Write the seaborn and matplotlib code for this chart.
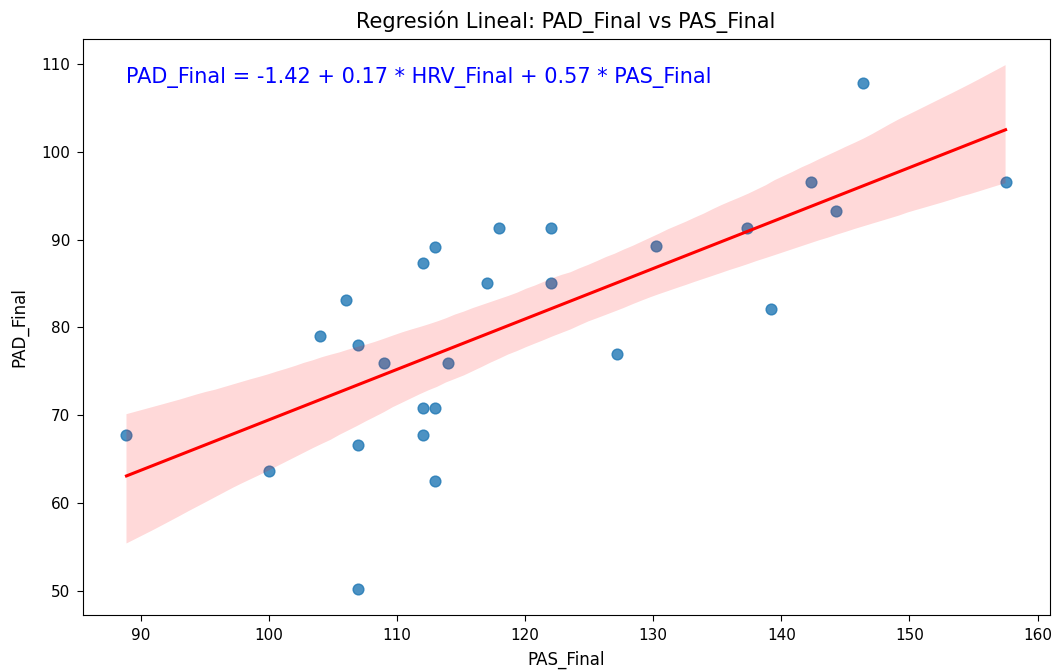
import matplotlib
matplotlib.use("Agg")
import matplotlib.pyplot as plt
import seaborn as sns
import pandas as pd

# values
pas_final = [88.9, 100.0, 104.0, 106.0, 107.0, 107.0, 107.0, 109.0, 112.0, 113.0,
             112.0, 113.0, 112.0, 113.0, 114.0, 117.0, 118.0, 122.0, 122.0, 127.2,
             130.2, 137.3, 139.2, 142.3, 144.3, 146.4, 157.5]
pad_final = [67.7, 63.6, 79.0, 83.1, 78.0, 66.6, 50.2, 76.0, 87.3, 89.2,
             70.8, 70.8, 67.7, 62.5, 76.0, 85.1, 91.3, 91.3, 85.1, 77.0,
             89.3, 91.3, 82.1, 96.5, 93.3, 107.8, 96.5]

# coefficients of the multiple regression shown in the annotation
intercept = -1.42
coef_hrv = 0.17
coef_pas = 0.57

df = pd.DataFrame({'PAS_Final': pas_final, 'PAD_Final': pad_final})

fig = plt.figure(figsize=(10.58, 6.71), dpi=100)
ax = fig.add_subplot(111)
fig.subplots_adjust(left=0.078, right=0.992, top=0.942, bottom=0.083)

sns.regplot(x='PAS_Final', y='PAD_Final', data=df, ax=ax,
            scatter_kws={'s': 60},
            line_kws={'color': 'red', 'lw': 2.2}, seed=3)

ax.set_title('Regresión Lineal: PAD_Final vs PAS_Final', fontsize=15, pad=8)
ax.set_xlabel('PAS_Final', fontsize=12, labelpad=6)
ax.set_ylabel('PAD_Final', fontsize=12, labelpad=9)
ax.tick_params(labelsize=11, length=4, pad=5)
equation = f'PAD_Final = {intercept:.2f} + {coef_hrv:.2f} * HRV_Final + {coef_pas:.2f} * PAS_Final'
ax.text(df['PAS_Final'].min(), df['PAD_Final'].max(), equation, fontsize=15, color='blue')

fig.savefig('out.png', dpi=100)
